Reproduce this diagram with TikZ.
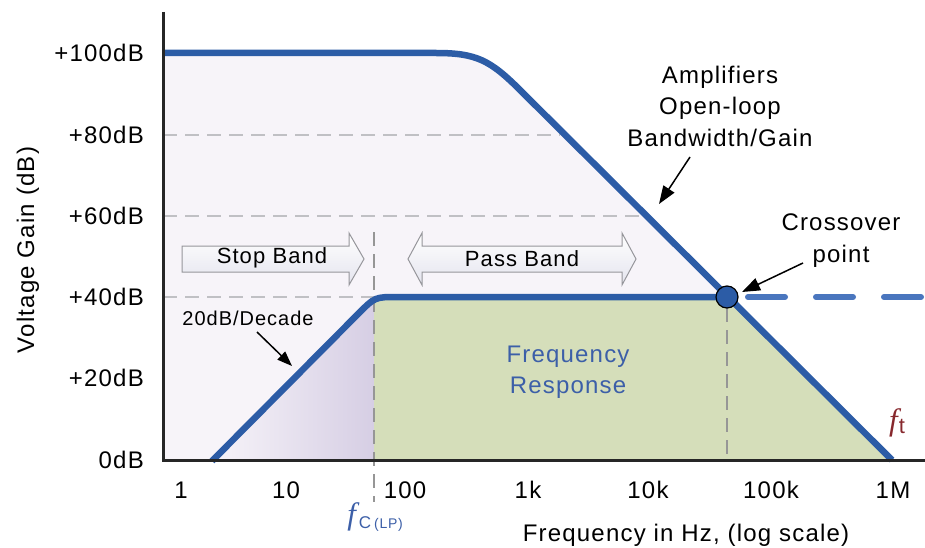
\documentclass[tikz,border=0pt]{standalone}
\usepackage{fontspec}
\setmainfont{Liberation Sans}[LetterSpace=5]
\newfontfamily\serifit{Liberation Serif}
\usetikzlibrary{arrows.meta}
\definecolor{curveblue}{RGB}{44,92,166}
\definecolor{dashblue}{RGB}{74,118,190}
\definecolor{lavfill}{RGB}{247,244,249}
\definecolor{lavdeep}{RGB}{214,206,228}
\definecolor{respgreen}{RGB}{213,222,186}
\definecolor{txtblue}{RGB}{60,95,168}
\definecolor{ftred}{RGB}{135,40,45}
\definecolor{gridgrey}{RGB}{192,192,196}
\definecolor{vgrey}{RGB}{150,150,150}
\definecolor{arrowedge}{RGB}{150,150,155}
\definecolor{arrowfill}{RGB}{228,228,238}
\begin{document}
\begin{tikzpicture}[x=1pt,y=-1pt,
  font=\fontsize{24}{29}\selectfont,
  curve/.style={curveblue,line width=6.5pt,line join=round},
  gridline/.style={gridgrey,line width=2pt,dash pattern=on 14pt off 8pt},
  vdash/.style={vgrey,line width=2pt,dash pattern=on 14pt off 8pt},
  blockarrow/.style={draw=arrowedge,line width=1pt,top color=white,bottom color=arrowfill},
  ytick/.style={anchor=east,inner sep=0pt},
  xtick/.style={inner sep=0pt},
  annot/.style={-{Triangle[length=18pt,width=13pt]},line width=1.5pt,black},
]
\useasboundingbox (0,0) rectangle (925,548);
\fill[white] (0,0) rectangle (925,548);

% fills
\fill[lavfill] (163,53) -- (436,53) .. controls (476,53) and (490,60) .. (520,90) -- (893,460) -- (163,460) -- cycle;
\shade[left color=lavfill, right color=lavdeep] (212,460) -- (359,313) .. controls (370,302) .. (374,299) -- (374,460) -- cycle;
\fill[respgreen] (374,297) -- (727,297) -- (891,460) -- (374,460) -- cycle;

% grid lines
\draw[gridline] (163,135) -- (560,135);
\draw[gridline] (163,216) -- (648,216);
\draw[gridline] (163,297) -- (374,297);
\coordinate (fcTop) at (374,232);
\coordinate (fcBot) at (374,502);
\draw[vdash] (fcTop) -- (fcBot);
\coordinate (ftTop) at (727,308);
\coordinate (ftBot) at (727,460);
\draw[vdash] (ftTop) -- (ftBot);

% block arrows
\draw[blockarrow] (182,246) -- (349,246) -- (349,233) -- (364,259) -- (349,285) -- (349,272) -- (182,272) -- cycle;
\node (stop) at (272,258) {\fontsize{22}{26}\selectfont Stop Band};
\draw[blockarrow] (408,259) -- (422,233) -- (422,246) -- (622,246) -- (622,233) -- (636,259) -- (622,285) -- (622,272) -- (422,272) -- (422,285) -- cycle;
\node (pass) at (522,259) {\fontsize{22}{26}\selectfont Pass Band};

% curves
\draw[curve] (163,53) -- (436,53) .. controls (476,53) and (490,60) .. (520,90) -- (892,460);
\draw[curve] (212,461) -- (359,313) .. controls (375,297) .. (398,297) -- (727,297);

% axes
\coordinate (axTop) at (163,12);
\coordinate (origin) at (163,460);
\coordinate (axRight) at (925,460);
\draw[line width=3pt, black!85] (axTop) -- (origin) -- (axRight);

% crossover
\node[circle, fill=curveblue, draw=black, line width=1.2pt, minimum size=22pt, inner sep=0pt] (xo) at (727,297) {};
\coordinate (dashS) at (748,297);
\coordinate (dashE) at (925,297);
\draw[dashblue, line width=6pt, dash pattern=on 37pt off 31pt, line cap=round] (dashS) -- (dashE);

% tick labels
\node[ytick] (l100) at (144,53) {+100dB};
\node[ytick] (l80) at (144,135) {+80dB};
\node[ytick] (l60) at (144,216) {+60dB};
\node[ytick] (l40) at (144,297) {+40dB};
\node[ytick] (l20) at (144,378) {+20dB};
\node[ytick] (l0) at (144,460) {0dB};

\node[xtick] (t1) at (181,490) {1};
\node[xtick] (t10) at (286,490) {10};
\node[xtick] (t100) at (405,490) {100};
\node[xtick] (t1k) at (528,490) {1k};
\node[xtick] (t10k) at (648,490) {10k};
\node[xtick] (t100k) at (771,490) {100k};
\node[xtick] (t1M) at (893,490) {1M};

\node[rotate=90] (ylab) at (28,250) {Voltage Gain (dB)};
\node (xlab) at (686,535) {Frequency in Hz, (log scale)};

% annotations
\node[align=center, font=\fontsize{24}{31.5}\selectfont] (amp) at (720,106) {Amplifiers\\Open-loop\\Bandwidth/Gain};
\coordinate (ampTail) at (690,157);
\coordinate (ampTip) at (659,204);
\draw[annot] (ampTail) -- (ampTip);

\node[align=center, font=\fontsize{24}{32}\selectfont] (cross) at (841,241) {Crossover\\point};
\coordinate (crossTail) at (803,263);
\coordinate (crossTip) at (742,292);
\draw[annot] (crossTail) -- (crossTip);

\node (slope) at (248,318) {\fontsize{20}{24}\selectfont 20dB/Decade};
\coordinate (slopeTail) at (257,332);
\coordinate (slopeTip) at (292,366);
\draw[-{Triangle[length=15pt,width=11pt]},line width=1.5pt,black] (slopeTail) -- (slopeTip);

\node[align=center, text=txtblue, font=\fontsize{24}{31}\selectfont] (resp) at (568,372) {Frequency\\Response};

\node[ftred, inner sep=0pt] (ft) at (897,423) {{\fontsize{31}{31}\serifit\itshape f}\kern1pt\raisebox{-3pt}{\fontsize{22}{22}\selectfont t}};
\node[txtblue, inner sep=0pt] (fc) at (375,517) {{\fontsize{31}{31}\serifit\itshape f}\kern3pt\raisebox{-4pt}{\fontsize{17}{17}\selectfont C\kern3pt\fontsize{14}{14}\selectfont(LP)}};
\end{tikzpicture}
\end{document}
